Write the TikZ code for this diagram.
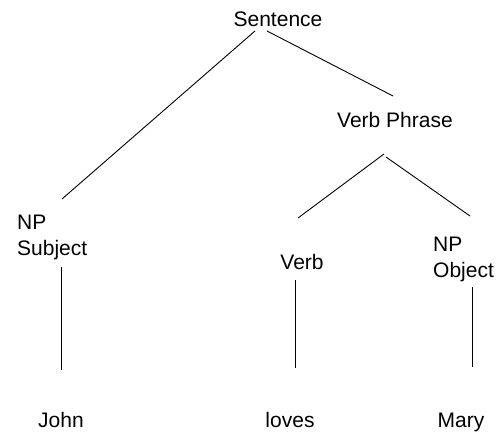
\documentclass[tikz,border=0pt]{standalone}
\usepackage{fontspec}
\setmainfont{Liberation Sans}
\begin{document}
\begin{tikzpicture}[
    x=1pt, y=1pt,
    % plain labels of the parse tree
    word/.style={
        font=\fontsize{21}{26}\selectfont,
        text=black,
        inner sep=0pt,
        anchor=base
    },
    pair/.style={
        word,
        align=left,
        anchor=north west
    },
    branch/.style={
        line width=0.9pt,
        black
    }
]
    \useasboundingbox (0,0) rectangle (497,431);

    % Top level
    \node[word] (sentence) at (278,404) {Sentence};
    \node[word] (vp) at (395,303) {Verb Phrase};

    % Second level
    \node[pair] (subj) at (17,216) {NP\\Subject};
    \node[word] (verb) at (302,161) {Verb};
    \node[pair] (obj) at (433,194) {NP\\Object};

    % Leaves
    \node[word] (john) at (61,4) {John};
    \node[word] (loves) at (290,4) {loves};
    \node[word] (mary) at (461,4) {Mary};

    % Branches
    \draw[branch] ([shift={(-23,-4)}]sentence.base) -- ([shift={(45,16)}]subj.north west);
    \draw[branch] ([shift={(-11,-4)}]sentence.base) -- ([shift={(-2,32)}]vp.base);
    \draw[branch] ([shift={(-11,-26)}]vp.base) -- ([shift={(-4,52)}]verb.base);
    \draw[branch] ([shift={(-9,-29)}]vp.base) -- ([shift={(37,21)}]obj.north west);

    % Words
    \draw[branch] ([shift={(44,-52)}]subj.north west) -- ([shift={(0,57)}]john.base);
    \draw[branch] ([shift={(-7,-10)}]verb.base) -- ([shift={(5,59)}]loves.base);
    \draw[branch] ([shift={(39,-50)}]obj.north west) -- ([shift={(11,60)}]mary.base);
\end{tikzpicture}
\end{document}
